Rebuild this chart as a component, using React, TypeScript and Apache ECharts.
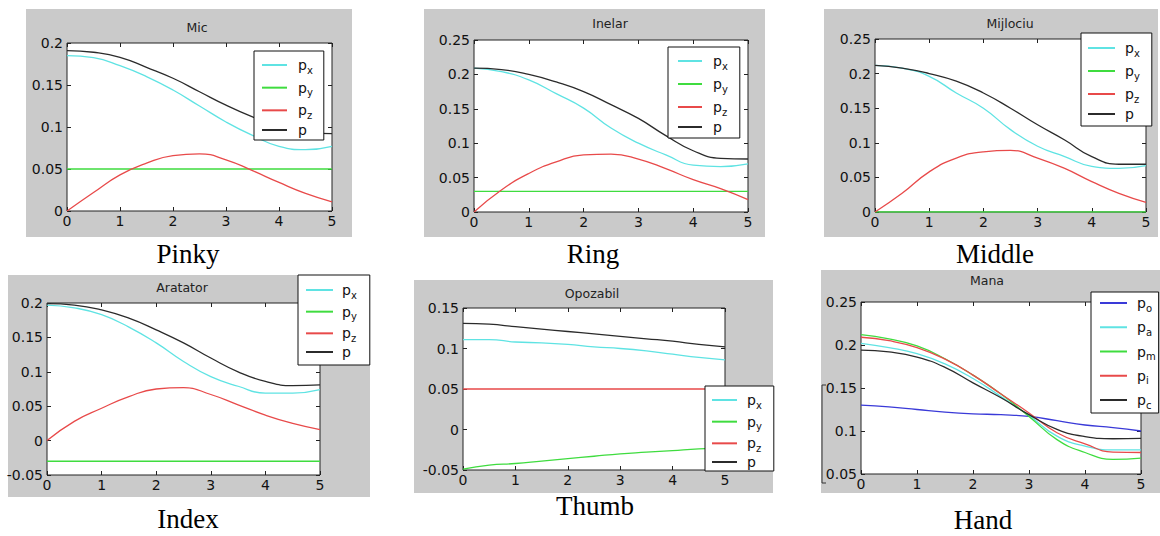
import React, { useEffect, useRef } from "react";
import * as echarts from "echarts";

// time axis (s)
const T = [0, 0.5, 1, 1.5, 2, 2.5, 3, 3.5, 4, 4.5, 5];

// Pinky (Mic)
const micPx = [0.185, 0.1825, 0.173, 0.16, 0.144, 0.125, 0.106, 0.09, 0.077, 0.073, 0.077];
const micPy = [0.05, 0.05, 0.05, 0.05, 0.05, 0.05, 0.05, 0.05, 0.05, 0.05, 0.05];
const micPz = [0, 0.022, 0.043, 0.057, 0.066, 0.068, 0.061, 0.048, 0.034, 0.021, 0.011];
const micP = [0.191, 0.189, 0.183, 0.171, 0.158, 0.142, 0.126, 0.112, 0.1, 0.094, 0.092];

// Ring (Inelar)
const inePx = [0.209, 0.204, 0.192, 0.172, 0.151, 0.122, 0.1, 0.083, 0.068, 0.066, 0.07];
const inePy = [0.03, 0.03, 0.03, 0.03, 0.03, 0.03, 0.03, 0.03, 0.03, 0.03, 0.03];
const inePz = [0, 0.032, 0.056, 0.073, 0.083, 0.084, 0.077, 0.063, 0.047, 0.034, 0.018];
const ineP = [0.209, 0.207, 0.2, 0.189, 0.175, 0.156, 0.136, 0.111, 0.089, 0.078, 0.077];

// Middle (Mijlociu)
const mijPx = [0.212, 0.208, 0.196, 0.172, 0.15, 0.119, 0.095, 0.08, 0.066, 0.063, 0.067];
const mijPy = [0, 0, 0, 0, 0, 0, 0, 0, 0, 0, 0];
const mijPz = [0, 0.027, 0.058, 0.078, 0.087, 0.089, 0.078, 0.063, 0.044, 0.027, 0.014];
const mijP = [0.212, 0.208, 0.2, 0.189, 0.172, 0.15, 0.126, 0.104, 0.08, 0.069, 0.069];

// Index (Aratator)
const araPx = [0.197, 0.193, 0.183, 0.165, 0.142, 0.115, 0.093, 0.079, 0.069, 0.069, 0.074];
const araPy = [-0.03, -0.03, -0.03, -0.03, -0.03, -0.03, -0.03, -0.03, -0.03, -0.03, -0.03];
const araPz = [0, 0.028, 0.047, 0.064, 0.075, 0.077, 0.067, 0.052, 0.037, 0.025, 0.016];
const araP = [0.199, 0.197, 0.19, 0.178, 0.161, 0.142, 0.12, 0.1, 0.086, 0.08, 0.081];

// Thumb (Opozabil)
const opoPx = [0.111, 0.111, 0.108, 0.107, 0.105, 0.102, 0.1, 0.097, 0.093, 0.089, 0.086];
const opoPy = [-0.049, -0.044, -0.042, -0.039, -0.036, -0.033, -0.03, -0.028, -0.026, -0.024, -0.023];
const opoPz = [0.05, 0.05, 0.05, 0.05, 0.05, 0.05, 0.05, 0.05, 0.05, 0.05, 0.05];
const opoP = [0.131, 0.13, 0.127, 0.124, 0.121, 0.118, 0.115, 0.112, 0.109, 0.105, 0.102];

// Hand (Mana)
const manPo = [0.13, 0.128, 0.125, 0.122, 0.12, 0.119, 0.117, 0.112, 0.107, 0.104, 0.1];
const manPa = [0.202, 0.197, 0.19, 0.178, 0.161, 0.14, 0.118, 0.094, 0.0825, 0.078, 0.078];
const manPm = [0.212, 0.207, 0.199, 0.184, 0.165, 0.143, 0.117, 0.09, 0.075, 0.067, 0.0685];
const manPi = [0.209, 0.205, 0.197, 0.1835, 0.165, 0.143, 0.121, 0.098, 0.085, 0.0755, 0.075];
const manPc = [0.194, 0.192, 0.186, 0.174, 0.156, 0.1386, 0.119, 0.102, 0.0935, 0.091, 0.0915];

const titles = ["Mic", "Inelar", "Mijlociu", "Aratator", "Opozabil", "Mana"];
const captions = ["Pinky", "Ring", "Middle", "Index", "Thumb", "Hand"];
const yMins = [0, 0, 0, -0.05, -0.05, 0.05];
const yMaxs = [0.2, 0.25, 0.25, 0.2, 0.15, 0.25];

const COL = { c: "#5fe3e3", g: "#3fdc3f", r: "#e84a4a", k: "#2b2b2b", b: "#3a3ad8" };

type Line = { sub: string; color: string; values: number[] };
const fingerLines = (px: number[], py: number[], pz: number[], p: number[]): Line[] => [
  { sub: "x", color: COL.c, values: px },
  { sub: "y", color: COL.g, values: py },
  { sub: "z", color: COL.r, values: pz },
  { sub: "", color: COL.k, values: p },
];
const panelLines: Line[][] = [
  fingerLines(micPx, micPy, micPz, micP),
  fingerLines(inePx, inePy, inePz, ineP),
  fingerLines(mijPx, mijPy, mijPz, mijP),
  fingerLines(araPx, araPy, araPz, araP),
  fingerLines(opoPx, opoPy, opoPz, opoP),
  [
    { sub: "o", color: COL.b, values: manPo },
    { sub: "a", color: COL.c, values: manPa },
    { sub: "m", color: COL.g, values: manPm },
    { sub: "i", color: COL.r, values: manPi },
    { sub: "c", color: COL.k, values: manPc },
  ],
];

// layout (pixels)
type Lay = {
  gray: number[]; plot: number[]; title: number[];
  box: number[]; rows: number[]; line: number[]; text: number; cap: number[];
};
const LAYOUT: Lay[] = [
  { gray: [26, 9, 352, 237], plot: [67, 43, 332, 211], title: [197, 27], box: [254, 51, 324, 146], rows: [65, 133], line: [262, 287], text: 298, cap: [188, 254] },
  { gray: [424, 9, 765, 237], plot: [474, 40, 748, 212], title: [610, 23], box: [668, 47, 740, 144], rows: [61, 130], line: [678, 702], text: 713, cap: [593, 254] },
  { gray: [824, 9, 1158, 237], plot: [875, 39, 1146, 212], title: [1010, 23], box: [1081, 33, 1152, 132], rows: [48, 117], line: [1088, 1115], text: 1125, cap: [995, 254] },
  { gray: [8, 275, 370, 497], plot: [47, 303, 320, 475], title: [182, 287], box: [298, 275, 370, 371], rows: [290, 355], line: [306, 333], text: 342, cap: [188, 519] },
  { gray: [414, 280, 773, 493], plot: [463, 308, 725, 470], title: [592, 293], box: [705, 386, 774, 477], rows: [400, 465], line: [712, 737], text: 747, cap: [595, 506] },
  { gray: [821, 270, 1160, 493], plot: [861, 302, 1141, 474], title: [987, 280], box: [1091, 292, 1158, 413], rows: [303, 400], line: [1100, 1127], text: 1137, cap: [983, 520] },
];

const SANS = "DejaVu Sans";
const fmt = (v: number) => String(Math.round(v * 1000) / 1000);

export default function App() {
  const ref = useRef<HTMLDivElement>(null);
  useEffect(() => {
    if (!ref.current) return;
    const chart = echarts.init(ref.current, undefined, { renderer: "svg" });
    const grid: any[] = [];
    const xAxis: any[] = [];
    const yAxis: any[] = [];
    const series: any[] = [];
    const legend: any[] = [];
    const graphic: any[] = [];

    LAYOUT.forEach((L, i) => {
      const [x0, y0, x1, y1] = L.plot;
      grid.push({
        left: x0, top: y0, width: x1 - x0, height: y1 - y0,
        show: true, backgroundColor: "#ffffff", borderColor: "#222", borderWidth: 1,
        containLabel: false, outerBoundsMode: "none",
      });
      const tick = { show: true, inside: true, length: 4, lineStyle: { color: "#222", width: 1 } };
      const lbl = { fontFamily: SANS, fontSize: 14, color: "#111" };
      xAxis.push({
        type: "value", gridIndex: i, min: 0, max: 5, interval: 1, position: "bottom",
        axisLine: { show: false, onZero: false }, axisTick: tick, splitLine: { show: false },
        axisLabel: { ...lbl, margin: 3, showMinLabel: true, showMaxLabel: true },
      });
      xAxis.push({
        type: "value", gridIndex: i, min: 0, max: 5, interval: 1, position: "top",
        axisLine: { show: false, onZero: false }, axisTick: tick, splitLine: { show: false },
        axisLabel: { show: false },
      });
      yAxis.push({
        type: "value", gridIndex: i, min: yMins[i], max: yMaxs[i], interval: 0.05, position: "left",
        axisLine: { show: false, onZero: false }, axisTick: tick, splitLine: { show: false },
        axisLabel: { ...lbl, margin: 4, formatter: fmt, showMinLabel: true, showMaxLabel: true },
      });
      yAxis.push({
        type: "value", gridIndex: i, min: yMins[i], max: yMaxs[i], interval: 0.05, position: "right",
        axisLine: { show: false, onZero: false }, axisTick: tick, splitLine: { show: false },
        axisLabel: { show: false },
      });

      const names: string[] = [];
      const subOf: Record<string, string> = {};
      panelLines[i].forEach((ln, j) => {
        const name = `${titles[i]}-${j}`;
        names.push(name);
        subOf[name] = ln.sub;
        series.push({
          type: "line", name, xAxisIndex: 2 * i, yAxisIndex: 2 * i,
          data: T.map((t, k) => [t, ln.values[k]]),
          smooth: 0.5, smoothMonotone: "none", showSymbol: false, symbol: "none",
          color: ln.color, itemStyle: { color: ln.color },
          lineStyle: { color: ln.color, width: 1.3 }, z: 2,
        });
      });

      const n = names.length;
      const rowH = 20;
      const gap = Math.max(0, (L.rows[1] - L.rows[0]) / (n - 1) - rowH);
      const [bx0, by0, bx1, by1] = L.box;
      const padL = L.line[0] - bx0;
      const iw = L.line[1] - L.line[0];
      const tp = L.text - L.line[1] - 5;
      const tw = i === 5 ? 18 : 15;
      const padR = Math.max(2, bx1 - bx0 - (padL + iw + 5 + tp + tw));
      const padT = Math.max(0, L.rows[0] - rowH / 2 - by0);
      const padB = Math.max(0, by1 - (L.rows[1] + rowH / 2));
      legend.push({
        data: names, orient: "vertical", left: bx0, top: by0,
        padding: [padT, padR, padB, padL], itemGap: gap,
        itemWidth: iw, itemHeight: 2, icon: "rect",
        backgroundColor: "#ffffff", borderColor: "#111", borderWidth: 1, borderRadius: 0,
        selectedMode: false, z: 5,
        formatter: (nm: string) => (subOf[nm] ? `{p|p}{s|${subOf[nm]}}` : `{p|p}`),
        textStyle: {
          padding: [0, 0, 0, tp],
          rich: {
            p: { fontFamily: SANS, fontSize: 14, lineHeight: rowH, color: "#111" },
            s: { fontFamily: SANS, fontSize: 10, lineHeight: 10, padding: [10, 0, 0, 0], color: "#111" },
          },
        },
      });

      const [gx0, gy0, gx1, gy1] = L.gray;
      graphic.push({
        type: "rect", z: -10, silent: true,
        shape: { x: gx0, y: gy0, width: gx1 - gx0, height: gy1 - gy0 },
        style: { fill: "#cacaca" },
      });
      graphic.push({
        type: "text", z: 3, x: L.title[0], y: L.title[1], silent: true,
        style: { text: titles[i], fontFamily: SANS, fontSize: 12.5, fill: "#222", align: "center", verticalAlign: "middle" },
      });
      graphic.push({
        type: "text", z: 3, x: L.cap[0], y: L.cap[1], silent: true,
        style: { text: captions[i], fontFamily: "Liberation Serif", fontSize: 27, fill: "#000", align: "center", verticalAlign: "middle" },
      });
    });

    graphic.push({
      type: "polyline", z: 3, silent: true,
      shape: { points: [[826, 385], [822, 385], [822, 483], [826, 483]] },
      style: { stroke: "#333", lineWidth: 1, fill: "none" },
    });

    chart.setOption({
      animation: false,
      backgroundColor: "#ffffff",
      grid, xAxis, yAxis, series, legend, graphic,
    });
    return () => chart.dispose();
  }, []);
  return <div ref={ref} style={{ position: "fixed", left: 0, top: 0, width: 1160, height: 536 }} />;
}
